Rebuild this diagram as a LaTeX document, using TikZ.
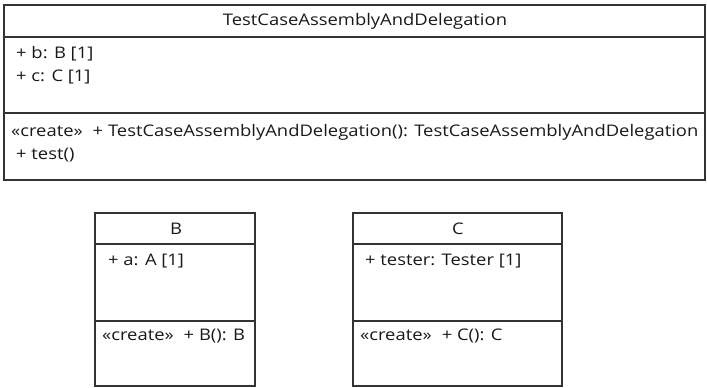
\documentclass[tikz,border=0pt]{standalone}
\usepackage{fontspec}
\setmainfont[FakeStretch=1.15]{Open Sans}
\newcommand{\crgap}{\hspace*{10pt}}
\begin{document}
\begin{tikzpicture}[x=1pt,y=-1pt,
  boxline/.style={draw=black!80,line width=1.3pt},
  sepline/.style={draw=black!80,line width=1.3pt},
  txt/.style={inner sep=0pt,anchor=west,text=black!90,font=\fontsize{16}{18}\selectfont},
  ttl/.style={inner sep=0pt,anchor=center,text=black!90,font=\fontsize{16}{18}\selectfont}]
\useasboundingbox (0,0) rectangle (707,388);
% Top class
\draw[boxline] (4,5) rectangle (705,180);
\draw[sepline] (4,37) -- (705,37);
\draw[sepline] (4,113) -- (705,113);
\node[ttl] (tname) at (365,21) {TestCaseAssemblyAndDelegation};
\node[txt] (tb) at (16,54) {+ b: B [1]};
\node[txt] (tc) at (16,77) {+ c: C [1]};
\node[txt] (tcr) at (11,132) {«create»\crgap+ TestCaseAssemblyAndDelegation(): TestCaseAssemblyAndDelegation};
\node[txt] (tt) at (16,155) {+ test()};
% B class
\draw[boxline] (95,213) rectangle (255,386);
\draw[sepline] (95,244) -- (255,244);
\draw[sepline] (95,321) -- (255,321);
\node[ttl] (bname) at (176,229) {B};
\node[txt] (ba) at (108,261) {+ a: A [1]};
\node[txt] (bcr) at (102,336) {«create»\crgap+ B(): B};
% C class
\draw[boxline] (353,213) rectangle (562,386);
\draw[sepline] (353,244) -- (562,244);
\draw[sepline] (353,321) -- (562,321);
\node[ttl] (cname) at (458,229) {C};
\node[txt] (ctest) at (365,261) {+ tester: Tester [1]};
\node[txt] (ccr) at (360,336) {«create»\crgap+ C(): C};
\end{tikzpicture}
\end{document}
